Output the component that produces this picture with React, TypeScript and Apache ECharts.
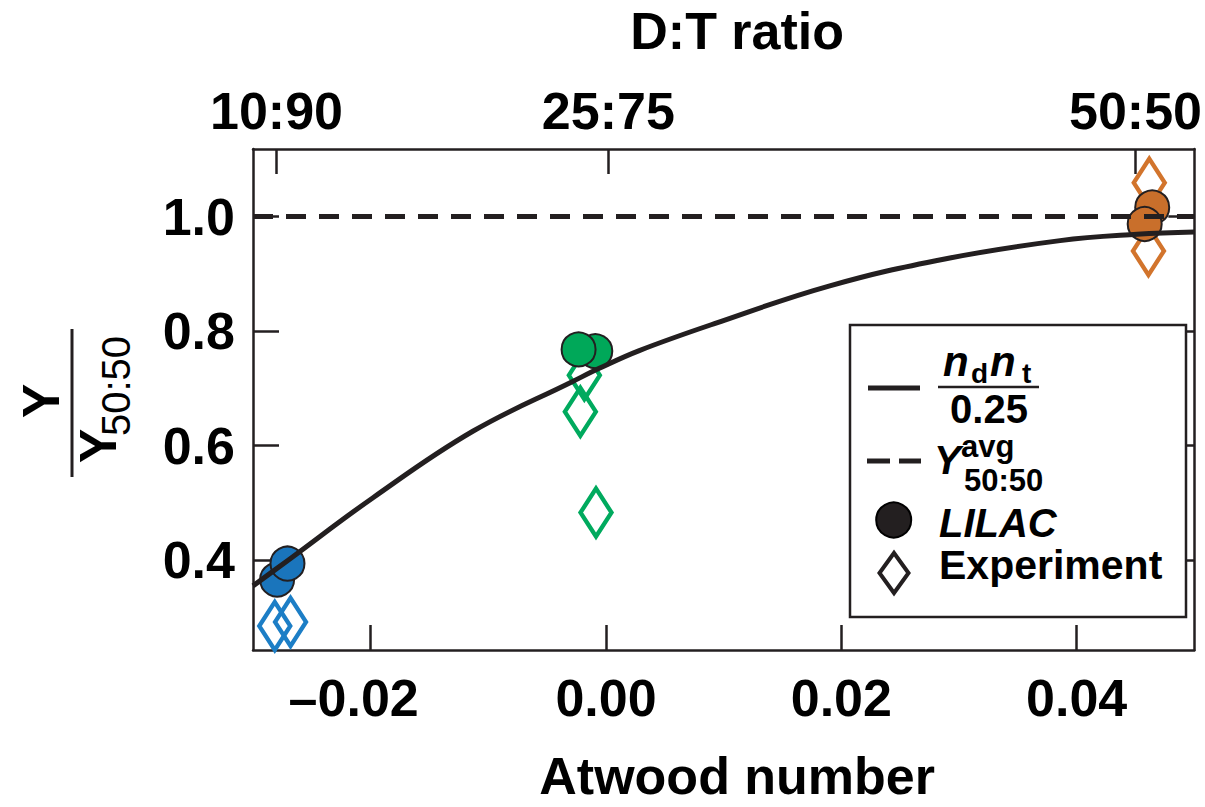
import React, { useEffect, useRef } from 'react';
import * as echarts from 'echarts';

// ---- data ----
const xMin = -0.03;
const xMax = 0.05;
const yMin = 0.243;
const yMax = 1.118;
const bottomTicks = [-0.02, 0, 0.02, 0.04];
const leftTicks = [0.4, 0.6, 0.8, 1.0];
const topTickValues = [-0.028, 0.0002, 0.045];
const topTickLabels = ['10:90', '25:75', '50:50'];

const curveA = [-0.03, -0.02707, -0.0198, -0.01132, -0.00283, -0.00057, 0.00283, 0.00922, 0.01902, 0.02879, 0.03859, 0.04513, 0.05];
const curveY = [0.355, 0.399, 0.509, 0.625, 0.712, 0.735, 0.766, 0.813, 0.879, 0.926, 0.958, 0.969, 0.973];
const avgLevel = 1.0;

const lilacBlue = [[-0.02795, 0.366], [-0.02707, 0.394]];
const lilacGreen = [[-0.00091, 0.765], [-0.00233, 0.768]];
const lilacOrange = [[0.04642, 1.016], [0.04578, 0.987]];
const expBlue = [[-0.02815, 0.285], [-0.02681, 0.292]];
const expGreen = [[-0.00184, 0.723], [-0.00218, 0.659], [-0.00085, 0.483]];
const expOrange = [[0.04617, 1.059], [0.0461, 0.94]];

const FONT = '"Liberation Sans", Arial, Helvetica, sans-serif';
const INK = '#231F20';
const BLUE = '#1a75bc';
const BLUE_D = '#1c7ec6';
const GREEN = '#00a859';
const GREEN_D = '#00aa5e';
const ORANGE = '#c96f2b';
const ORANGE_D = '#d2742c';

const txt = (x: number, y: number, text: string, size: number, weight: string, style: string, align: string = 'left') => ({
  type: 'text',
  x,
  y,
  z: 101,
  style: {
    text,
    fontSize: size,
    fontWeight: weight,
    fontStyle: style,
    fontFamily: FONT,
    fill: '#000',
    align,
    textAlign: align,
    verticalAlign: 'middle',
    textVerticalAlign: 'middle',
  },
});

const axisLineStyle = { color: INK, width: 2.5 };
const tickStyle = { color: INK, width: 2.5 };
const labelFont = { fontSize: 52, fontWeight: 'bold', fontFamily: FONT, color: '#000' };

function buildOption() {
  const curve = curveA.map((a, i) => [a, curveY[i]]);
  const diamond = (data: number[][], color: string) => ({
    type: 'scatter',
    data,
    symbol: 'diamond',
    symbolSize: [31, 48],
    z: 2,
    itemStyle: { color: 'rgba(255,255,255,0)', borderColor: color, borderWidth: 4.5, opacity: 1 },
    emphasis: { disabled: true },
  });
  const circle = (data: number[][], color: string) => ({
    type: 'scatter',
    data,
    symbol: 'circle',
    symbolSize: 34,
    z: 3,
    itemStyle: { color, borderColor: INK, borderWidth: 2, opacity: 1 },
    emphasis: { disabled: true },
  });

  return {
    animation: false,
    grid: { left: 253, top: 149, width: 943, height: 504, containLabel: false },
    xAxis: [
      {
        type: 'value',
        position: 'bottom',
        min: xMin,
        max: xMax,
        name: 'Atwood number',
        nameLocation: 'middle',
        nameGap: 100,
        nameTextStyle: { ...labelFont, padding: [0, 0, 0, 27] },
        axisLine: { show: true, onZero: false, lineStyle: axisLineStyle },
        axisTick: { show: true, inside: true, length: 25, lineStyle: tickStyle, customValues: bottomTicks },
        axisLabel: {
          ...labelFont,
          margin: 22,
          customValues: bottomTicks,
          formatter: (v: number) => (v < -1e-9 ? '{neg|–' + Math.abs(v).toFixed(2) + '}' : Math.abs(v).toFixed(2)),
          rich: { neg: { ...labelFont, padding: [0, 34, 0, 0] } },
        },
        splitLine: { show: false },
      },
      {
        type: 'value',
        position: 'top',
        min: xMin,
        max: xMax,
        name: 'D:T ratio',
        nameLocation: 'middle',
        nameGap: 92,
        nameTextStyle: { ...labelFont, padding: [0, 0, 0, 27] },
        axisLine: { show: true, onZero: false, lineStyle: axisLineStyle },
        axisTick: { show: true, inside: true, length: 25, lineStyle: tickStyle, customValues: topTickValues },
        axisLabel: {
          ...labelFont,
          margin: 12,
          customValues: topTickValues,
          formatter: (v: number) => {
            let best = 0;
            topTickValues.forEach((t, i) => {
              if (Math.abs(t - v) < Math.abs(topTickValues[best] - v)) best = i;
            });
            return topTickLabels[best];
          },
        },
        splitLine: { show: false },
      },
    ],
    yAxis: [
      {
        type: 'value',
        position: 'left',
        min: yMin,
        max: yMax,
        axisLine: { show: true, onZero: false, lineStyle: axisLineStyle },
        axisTick: { show: true, inside: true, length: 26, lineStyle: tickStyle, customValues: leftTicks },
        axisLabel: {
          ...labelFont,
          margin: 18,
          customValues: leftTicks,
          formatter: (v: number) => v.toFixed(1),
        },
        splitLine: { show: false },
      },
      {
        type: 'value',
        position: 'right',
        min: yMin,
        max: yMax,
        axisLine: { show: true, onZero: false, lineStyle: axisLineStyle },
        axisTick: { show: true, inside: true, length: 26, lineStyle: tickStyle, customValues: leftTicks },
        axisLabel: { show: false },
        splitLine: { show: false },
      },
    ],
    series: [
      diamond(expBlue, BLUE_D),
      diamond(expGreen, GREEN_D),
      diamond(expOrange, ORANGE_D),
      circle(lilacBlue, BLUE),
      circle(lilacGreen, GREEN),
      circle(lilacOrange, ORANGE),
      {
        type: 'line',
        data: curve,
        smooth: 0.4,
        showSymbol: false,
        z: 5,
        lineStyle: { color: INK, width: 5 },
        emphasis: { disabled: true },
      },
      {
        type: 'line',
        data: [[xMin, avgLevel], [xMax, avgLevel]],
        showSymbol: false,
        z: 5,
        lineStyle: { color: INK, width: 5, type: [20, 13] },
        emphasis: { disabled: true },
      },
    ],
    graphic: [
      // y axis name: Y / Y_50:50 rotated
      {
        type: 'group',
        x: 72,
        y: 403,
        rotation: Math.PI / 2,
        z: 100,
        children: [
          txt(2, -31, 'Y', 52, 'bold', 'normal', 'center'),
          { type: 'line', z: 101, shape: { x1: -74, y1: 0, x2: 74, y2: 0 }, style: { stroke: INK, lineWidth: 3 } },
          txt(-43, 25.5, 'Y', 52, 'bold', 'normal', 'center'),
          txt(17, 44, '50:50', 40, 'normal', 'normal', 'center'),
        ],
      },
      // legend
      {
        type: 'rect',
        z: 100,
        shape: { x: 850, y: 325, width: 336, height: 292 },
        style: { fill: '#fff', stroke: INK, lineWidth: 2.5 },
      },
      { type: 'line', z: 101, shape: { x1: 868, y1: 388, x2: 920, y2: 388 }, style: { stroke: INK, lineWidth: 5 } },
      txt(943, 361, 'n', 42, 'bold', 'italic'),
      txt(971, 373.5, 'd', 28, 'bold', 'normal'),
      txt(990, 361, 'n', 42, 'bold', 'italic'),
      txt(1022, 373.5, 't', 28, 'bold', 'normal'),
      { type: 'line', z: 101, shape: { x1: 938, y1: 387, x2: 1039, y2: 387 }, style: { stroke: INK, lineWidth: 2.5 } },
      txt(989, 408.5, '0.25', 40, 'bold', 'normal', 'center'),
      { type: 'line', z: 101, shape: { x1: 867, y1: 461, x2: 890, y2: 461 }, style: { stroke: INK, lineWidth: 5 } },
      { type: 'line', z: 101, shape: { x1: 899, y1: 461, x2: 921, y2: 461 }, style: { stroke: INK, lineWidth: 5 } },
      txt(934, 460, 'Y', 40, 'bold', 'italic'),
      txt(961, 446.5, 'avg', 31, 'bold', 'normal'),
      txt(964, 480, '50:50', 31, 'bold', 'normal'),
      { type: 'circle', z: 101, shape: { cx: 893.7, cy: 520, r: 17.5 }, style: { fill: INK, stroke: '#000', lineWidth: 2 } },
      txt(939, 523, 'LILAC', 40, 'bold', 'italic'),
      {
        type: 'polygon',
        z: 101,
        shape: { points: [[894, 553], [908.5, 573], [894, 593], [879.5, 573]] },
        style: { fill: 'rgba(255,255,255,0)', stroke: INK, lineWidth: 4 },
      },
      txt(939, 565, 'Experiment', 41, 'bold', 'normal'),
    ],
  };
}

export default function App() {
  const ref = useRef<HTMLDivElement>(null);
  useEffect(() => {
    document.body.style.margin = '0';
    const chart = echarts.init(ref.current as HTMLDivElement, null, { renderer: 'svg' });
    chart.setOption(buildOption() as any);
    return () => chart.dispose();
  }, []);
  return <div ref={ref} style={{ width: 1205, height: 807, background: '#fff' }} />;
}
